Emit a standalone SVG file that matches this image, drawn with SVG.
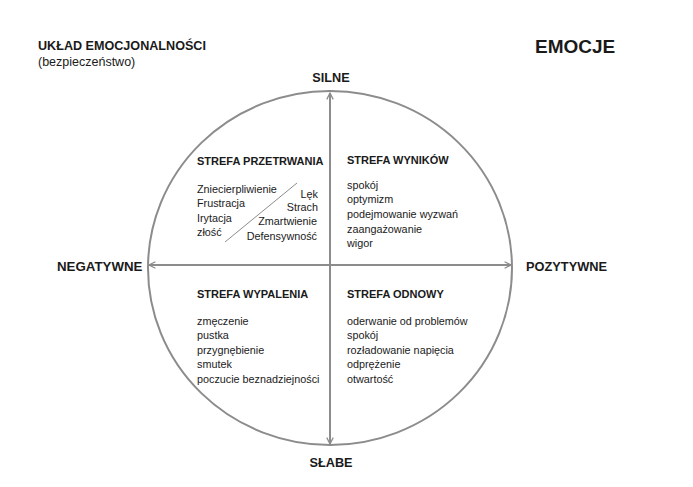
<svg xmlns="http://www.w3.org/2000/svg" width="693" height="487" viewBox="0 0 693 487">
<defs>
<marker id="arr" viewBox="0 0 10 10" refX="9" refY="5" markerWidth="8" markerHeight="8" markerUnits="userSpaceOnUse" orient="auto-start-reverse">
<path d="M1,1 L9,5 L1,9" fill="none" stroke="#8c8c8c" stroke-width="1.6"/>
</marker>
<style>
text{font-family:"Liberation Sans","Open Sans",sans-serif;fill:#1a1a1a}
.h{font-weight:bold;font-size:12.7px}
.z{font-weight:bold;font-size:11px}
.t{font-size:10.8px}
.ax{stroke:#8c8c8c;stroke-width:2;fill:none}
.thin{stroke:#8c8c8c;stroke-width:1;fill:none}
</style>
</defs>
<rect width="693" height="487" fill="#fff"/>
<g id="title">
<text x="38" y="50" style="font-weight:bold;font-size:12.6px">UKŁAD EMOCJONALNOŚCI</text>
<text x="38" y="66" style="font-size:12.5px">(bezpieczeństwo)</text>
<text x="535" y="53" style="font-weight:bold;font-size:19px">EMOCJE</text>
</g>
<g id="circle">
<ellipse cx="330" cy="268" rx="182" ry="177" class="ax"/>
</g>
<g id="connectors">
<line x1="149" y1="265" x2="511" y2="265" class="ax" marker-start="url(#arr)" marker-end="url(#arr)"/>
<line x1="330" y1="93" x2="330" y2="444" class="ax" marker-start="url(#arr)" marker-end="url(#arr)"/>
<line x1="297" y1="183" x2="225" y2="242" class="thin"/>
</g>
<g id="axis-labels">
<text x="331" y="82" class="h" text-anchor="middle">SILNE</text>
<text x="331" y="467" class="h" text-anchor="middle">SŁABE</text>
<text x="57" y="271" style="font-weight:bold;font-size:13.3px">NEGATYWNE</text>
<text x="526" y="271" style="font-weight:bold;font-size:12.8px">POZYTYWNE</text>
</g>
<g id="strefa-przetrwania">
<text x="197" y="165" class="z">STREFA PRZETRWANIA</text>
<text x="197" y="193" class="t">Zniecierpliwienie</text>
<text x="197" y="207" class="t">Frustracja</text>
<text x="197" y="222" class="t">Irytacja</text>
<text x="197" y="236" class="t">złość</text>
<text x="318" y="198" class="t" text-anchor="end">Lęk</text>
<text x="318" y="211" class="t" text-anchor="end">Strach</text>
<text x="317" y="225" class="t" text-anchor="end">Zmartwienie</text>
<text x="317" y="240" class="t" text-anchor="end">Defensywność</text>
</g>
<g id="strefa-wynikow">
<text x="347" y="164" class="z">STREFA WYNIKÓW</text>
<text x="347" y="189" class="t">spokój</text>
<text x="347" y="203" class="t">optymizm</text>
<text x="347" y="218" class="t">podejmowanie wyzwań</text>
<text x="347" y="233" class="t">zaangażowanie</text>
<text x="347" y="247" class="t">wigor</text>
</g>
<g id="strefa-wypalenia">
<text x="197" y="298" class="z">STREFA WYPALENIA</text>
<text x="197" y="325" class="t">zmęczenie</text>
<text x="197" y="339" class="t">pustka</text>
<text x="197" y="354" class="t">przygnębienie</text>
<text x="197" y="368" class="t">smutek</text>
<text x="197" y="383" class="t">poczucie beznadziejności</text>
</g>
<g id="strefa-odnowy">
<text x="347" y="298" class="z">STREFA ODNOWY</text>
<text x="347" y="325" class="t">oderwanie od problemów</text>
<text x="347" y="339" class="t">spokój</text>
<text x="347" y="354" class="t">rozładowanie napięcia</text>
<text x="347" y="368" class="t">odprężenie</text>
<text x="347" y="383" class="t">otwartość</text>
</g>
</svg>
